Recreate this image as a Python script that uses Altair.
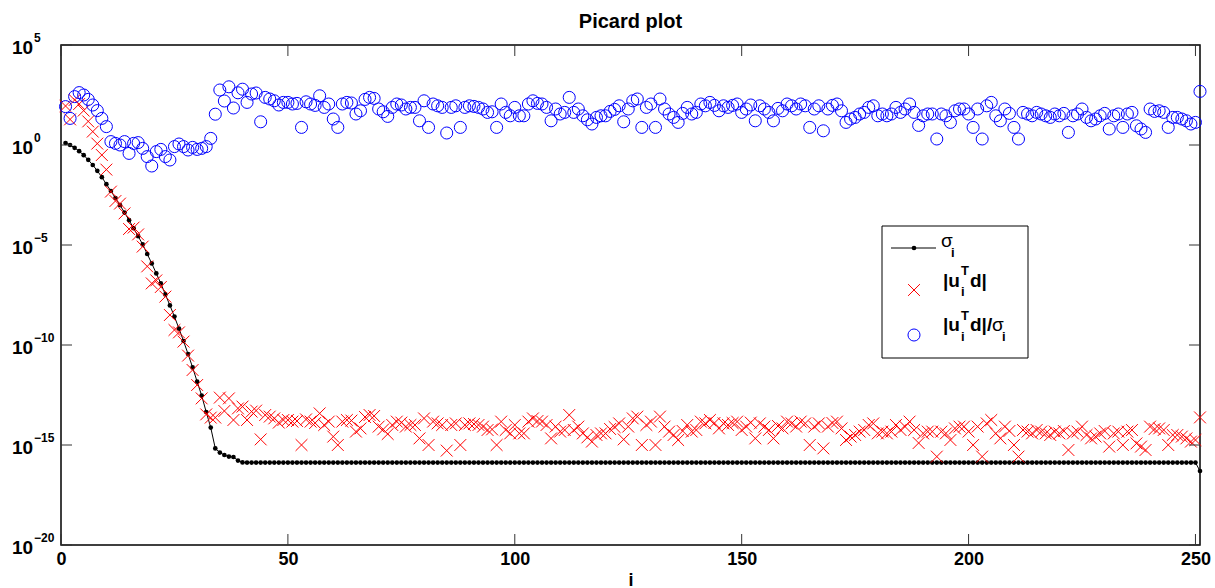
import altair as alt
import pandas as pd

# ---------------- data (log10 exponents) ----------------
index_i = list(range(1, 252))

sigma_exp = [0.10, 0.00, -0.14, -0.31, -0.51, -0.74, -1.00, -1.29, -1.61, -1.96,
             -2.30, -2.65, -3.01, -3.38, -3.76, -4.16, -4.56, -4.97, -5.45, -5.92,
             -6.42, -6.92, -7.47, -8.02, -8.58, -9.18, -9.80, -10.45, -11.12, -11.83,
             -12.53, -13.35, -14.13, -15.17, -15.38, -15.50, -15.58, -15.60, -15.78, -15.87] \
            + [-15.88] * 210 + [-16.30]

utd_exp = [1.95, 1.28, 2.25, 2.05, 1.72, 1.18, 0.67, 0.07, -0.50, -1.23,
           -2.33, -2.80, -2.93, -3.42, -4.20, -4.13, -4.47, -5.08, -6.07, -6.92,
           -6.77, -7.10, -7.58, -8.50, -9.25, -9.37, -9.83, -10.53, -11.25, -12.00,
           -12.67, -13.47, -13.63, -13.63, -12.63, -13.30, -12.67, -13.75, -13.17, -13.08,
           -13.75, -13.33, -13.28, -14.72, -13.50, -13.58, -13.67, -13.88, -13.75, -13.75,
           -13.83, -13.80, -15.00, -13.72, -13.83, -13.90, -13.42, -14.00, -13.83, -14.58,
           -15.00, -13.83, -13.75, -13.78, -14.33, -14.17, -13.60, -13.50, -13.55, -14.08,
           -14.22, -14.45, -14.00, -13.83, -13.88, -14.08, -14.00, -14.00, -14.67, -13.67,
           -15.00, -13.83, -13.92, -14.00, -15.28, -14.00, -13.92, -15.00, -14.00, -13.92,
           -13.95, -14.00, -14.08, -14.25, -14.22, -15.00, -13.83, -14.25, -14.42, -14.00,
           -14.42, -14.42, -13.83, -13.67, -13.80, -13.83, -14.00, -14.67, -14.08, -14.33,
           -14.25, -13.50, -14.25, -14.08, -14.42, -14.62, -14.83, -14.50, -14.42, -14.42,
           -14.20, -14.10, -13.92, -14.72, -14.08, -13.67, -13.58, -15.00, -14.00, -13.83,
           -15.00, -13.58, -14.08, -14.33, -14.50, -14.75, -14.30, -14.00, -14.33, -14.25,
           -13.83, -13.92, -13.75, -13.90, -14.17, -13.92, -14.00, -13.90, -13.83, -14.25,
           -14.08, -13.88, -14.67, -13.92, -14.08, -14.25, -14.67, -14.05, -14.17, -13.83,
           -13.92, -14.08, -13.83, -13.92, -15.00, -14.08, -13.92, -15.17, -14.08, -13.90,
           -13.83, -14.17, -14.75, -14.58, -14.50, -14.33, -14.25, -14.00, -13.92, -14.42,
           -14.33, -14.42, -14.33, -14.00, -14.25, -14.08, -13.83, -14.25, -14.90, -14.42,
           -14.33, -14.33, -15.58, -14.33, -14.42, -14.75, -14.17, -14.08, -14.08, -14.33,
           -15.00, -14.08, -15.58, -13.92, -13.75, -14.42, -14.67, -14.08, -14.30, -15.00,
           -15.58, -14.25, -14.33, -14.42, -14.25, -14.33, -14.42, -14.50, -14.33, -14.42,
           -14.30, -15.25, -14.42, -14.33, -14.08, -14.50, -14.67, -14.58, -14.42, -14.30,
           -15.08, -14.42, -14.33, -15.00, -14.33, -14.25, -14.92, -15.08, -15.25, -14.08,
           -14.20, -14.17, -14.25, -15.00, -14.50, -14.50, -14.58, -14.67, -14.83, -14.75,
           -13.62]

ratio_exp = [1.92, 1.33, 2.42, 2.62, 2.50, 2.28, 2.00, 1.72, 1.33, 0.92,
             0.17, 0.08, 0.00, 0.17, -0.42, 0.08, 0.12, -0.17, -0.58, -1.05,
             -0.33, -0.22, -0.58, -0.75, -0.08, 0.05, -0.08, -0.25, -0.12, -0.22,
             -0.17, -0.08, 0.33, 1.54, 2.75, 2.20, 2.91, 1.85, 2.61, 2.79,
             2.13, 2.55, 2.60, 1.16, 2.38, 2.30, 2.21, 2.00, 2.13, 2.13,
             2.05, 2.08, 0.88, 2.16, 2.05, 1.98, 2.46, 1.88, 2.05, 1.30,
             0.88, 2.05, 2.13, 2.10, 1.55, 1.71, 2.28, 2.38, 2.33, 1.80,
             1.66, 1.43, 1.88, 2.05, 2.00, 1.80, 1.88, 1.88, 1.21, 2.21,
             0.88, 2.05, 1.96, 1.88, 0.60, 1.88, 1.96, 0.88, 1.88, 1.96,
             1.93, 1.88, 1.80, 1.63, 1.66, 0.88, 2.05, 1.63, 1.46, 1.88,
             1.46, 1.46, 2.05, 2.21, 2.08, 2.05, 1.88, 1.21, 1.80, 1.55,
             1.63, 2.38, 1.63, 1.80, 1.46, 1.26, 1.05, 1.38, 1.46, 1.46,
             1.68, 1.78, 1.96, 1.16, 1.80, 2.21, 2.30, 0.88, 1.88, 2.05,
             0.88, 2.30, 1.80, 1.55, 1.38, 1.13, 1.58, 1.88, 1.55, 1.63,
             2.05, 1.96, 2.13, 1.98, 1.71, 1.96, 1.88, 1.98, 2.05, 1.63,
             1.80, 2.00, 1.21, 1.96, 1.80, 1.63, 1.21, 1.83, 1.71, 2.05,
             1.96, 1.80, 2.05, 1.96, 0.88, 1.80, 1.96, 0.71, 1.80, 1.98,
             2.05, 1.71, 1.13, 1.30, 1.38, 1.55, 1.63, 1.88, 1.96, 1.46,
             1.55, 1.46, 1.55, 1.88, 1.63, 1.80, 2.05, 1.63, 0.98, 1.46,
             1.55, 1.55, 0.30, 1.55, 1.46, 1.13, 1.71, 1.80, 1.80, 1.55,
             0.88, 1.80, 0.30, 1.96, 2.13, 1.46, 1.21, 1.80, 1.58, 0.88,
             0.30, 1.63, 1.55, 1.46, 1.63, 1.55, 1.46, 1.38, 1.55, 1.46,
             1.58, 0.63, 1.46, 1.55, 1.80, 1.38, 1.21, 1.30, 1.46, 1.58,
             0.80, 1.46, 1.55, 0.88, 1.55, 1.63, 0.96, 0.80, 0.63, 1.80,
             1.68, 1.71, 1.63, 0.88, 1.38, 1.38, 1.30, 1.21, 1.05, 1.13,
             2.68]

x_ticks = [0, 50, 100, 150, 200, 250]
y_tick_values = [1e5, 1e0, 1e-5, 1e-10, 1e-15, 1e-20]
y_tick_exps = ["5", "0", "\u22125", "\u221210", "\u221215", "\u221220"]
title_text = "Picard plot"

# ---------------- tables ----------------
df = pd.DataFrame({
    "i": index_i,
    "sigma": [10.0 ** e for e in sigma_exp],
    "utd": [10.0 ** e for e in utd_exp],
    "ratio": [10.0 ** e for e in ratio_exp],
})
xt = pd.DataFrame({"t": x_ticks})
yt = pd.DataFrame({"v": y_tick_values, "base": ["10"] * len(y_tick_values), "exp": y_tick_exps})
one = pd.DataFrame({"k": [0]})

W, H = 1139, 500
FONT = "Liberation Sans"
xscale = alt.Scale(domain=[0, 251], nice=False, zero=False)
yscale = alt.Scale(type="log", domain=[1e-20, 1e5], nice=False)
XSHAPE = "M-1,-1L1,1M-1,1L1,-1"
X_SIZE = 140
O_SIZE = 145
DOT_SIZE = 22

xaxis = alt.Axis(values=x_ticks, tickSize=0, domain=False, grid=False,
                 labelFont=FONT, labelFontSize=18, labelFontWeight="bold",
                 labelColor="black", labelPadding=5, labelFlush=False,
                 title="i", titleFont=FONT, titleFontSize=18, titleFontWeight="bold",
                 titleColor="black", titlePadding=3)

base = alt.Chart(df)
sig_line = base.mark_line(color="black", strokeWidth=1).encode(
    x=alt.X("i:Q", scale=xscale, axis=xaxis),
    y=alt.Y("sigma:Q", scale=yscale, axis=None))
sig_pts = base.mark_point(filled=True, color="black", size=DOT_SIZE, opacity=1).encode(
    x=alt.X("i:Q", scale=xscale), y=alt.Y("sigma:Q", scale=yscale))
utd_pts = base.mark_point(shape=XSHAPE, filled=False, color="#ff0000", size=X_SIZE,
                          strokeWidth=1, opacity=1).encode(
    x=alt.X("i:Q", scale=xscale), y=alt.Y("utd:Q", scale=yscale))
ratio_pts = base.mark_point(shape="circle", filled=False, color="#0000ff", size=O_SIZE,
                            strokeWidth=1, opacity=1).encode(
    x=alt.X("i:Q", scale=xscale), y=alt.Y("ratio:Q", scale=yscale))

# inward ticks on all four sides
tick_col = "#333333"
xt_bot = alt.Chart(xt).mark_rule(color=tick_col, strokeWidth=1).encode(
    x=alt.X("t:Q", scale=xscale), y=alt.value(H), y2=alt.value(H - 11))
xt_top = alt.Chart(xt).mark_rule(color=tick_col, strokeWidth=1).encode(
    x=alt.X("t:Q", scale=xscale), y=alt.value(0), y2=alt.value(11))
yt_left = alt.Chart(yt).mark_rule(color=tick_col, strokeWidth=1).encode(
    y=alt.Y("v:Q", scale=yscale), x=alt.value(0), x2=alt.value(11))
yt_right = alt.Chart(yt).mark_rule(color=tick_col, strokeWidth=1).encode(
    y=alt.Y("v:Q", scale=yscale), x=alt.value(W), x2=alt.value(W - 11))

# y tick labels 10^k
ylab_base = alt.Chart(yt).mark_text(align="left", baseline="alphabetic", font=FONT,
                                    fontSize=19, fontWeight="bold", color="black", dy=9).encode(
    y=alt.Y("v:Q", scale=yscale), x=alt.value(-49), text="base:N")
ylab_exp = alt.Chart(yt).mark_text(align="left", baseline="alphabetic", font=FONT,
                                   fontSize=12, fontWeight="bold", color="black", dy=-3).encode(
    y=alt.Y("v:Q", scale=yscale), x=alt.value(-27), text="exp:N")


def frag(txt, x, y, size, weight="bold", align="left"):
    return alt.Chart(one).mark_text(text=txt, align=align, baseline="alphabetic",
                                    font=FONT, fontSize=size, fontWeight=weight,
                                    color="black").encode(x=alt.value(x), y=alt.value(y))


title_mark = frag(title_text, W / 2, -17, 20, "bold", "center")

# legend (drawn by hand to allow sub/superscripts)
leg_box = alt.Chart(one).mark_rect(fill="white", stroke="black", strokeWidth=1).encode(
    x=alt.value(821), x2=alt.value(967), y=alt.value(181), y2=alt.value(313))
leg_line = alt.Chart(one).mark_rule(color="black", strokeWidth=1).encode(
    x=alt.value(830), x2=alt.value(875), y=alt.value(203))
leg_dot = alt.Chart(one).mark_point(filled=True, color="black", size=DOT_SIZE, opacity=1).encode(
    x=alt.value(853), y=alt.value(203))
leg_x = alt.Chart(one).mark_point(shape=XSHAPE, filled=False, color="#ff0000", size=X_SIZE,
                                  strokeWidth=1, opacity=1).encode(x=alt.value(853), y=alt.value(245))
leg_o = alt.Chart(one).mark_point(shape="circle", filled=False, color="#0000ff", size=O_SIZE,
                                  strokeWidth=1, opacity=1).encode(x=alt.value(853), y=alt.value(290))

leg_texts = [
    frag("\u03c3", 880, 202, 19, "normal"), frag("i", 890, 212, 13),
    frag("|u", 882, 242, 19), frag("T", 900, 230, 13), frag("i", 900, 251, 13), frag("d|", 909, 242, 19),
    frag("|u", 882, 286, 19), frag("T", 900, 275, 13), frag("i", 900, 296, 13), frag("d|/", 909, 286, 19),
    frag("\u03c3", 931, 286, 19, "normal"), frag("i", 941, 296, 13),
]

chart = alt.layer(
    sig_line, sig_pts, utd_pts, ratio_pts,
    xt_bot, xt_top, yt_left, yt_right, ylab_base, ylab_exp, title_mark,
    leg_box, leg_line, leg_dot, leg_x, leg_o, *leg_texts
).properties(
    width=W, height=H,
    autosize=alt.AutoSizeParams(type="none"),
    padding={"left": 61, "top": 45, "right": 15, "bottom": 43},
    background="white",
).configure_view(stroke="black", strokeWidth=1.5)

chart.save("out.html", embed_options={"renderer": "svg", "actions": False})
